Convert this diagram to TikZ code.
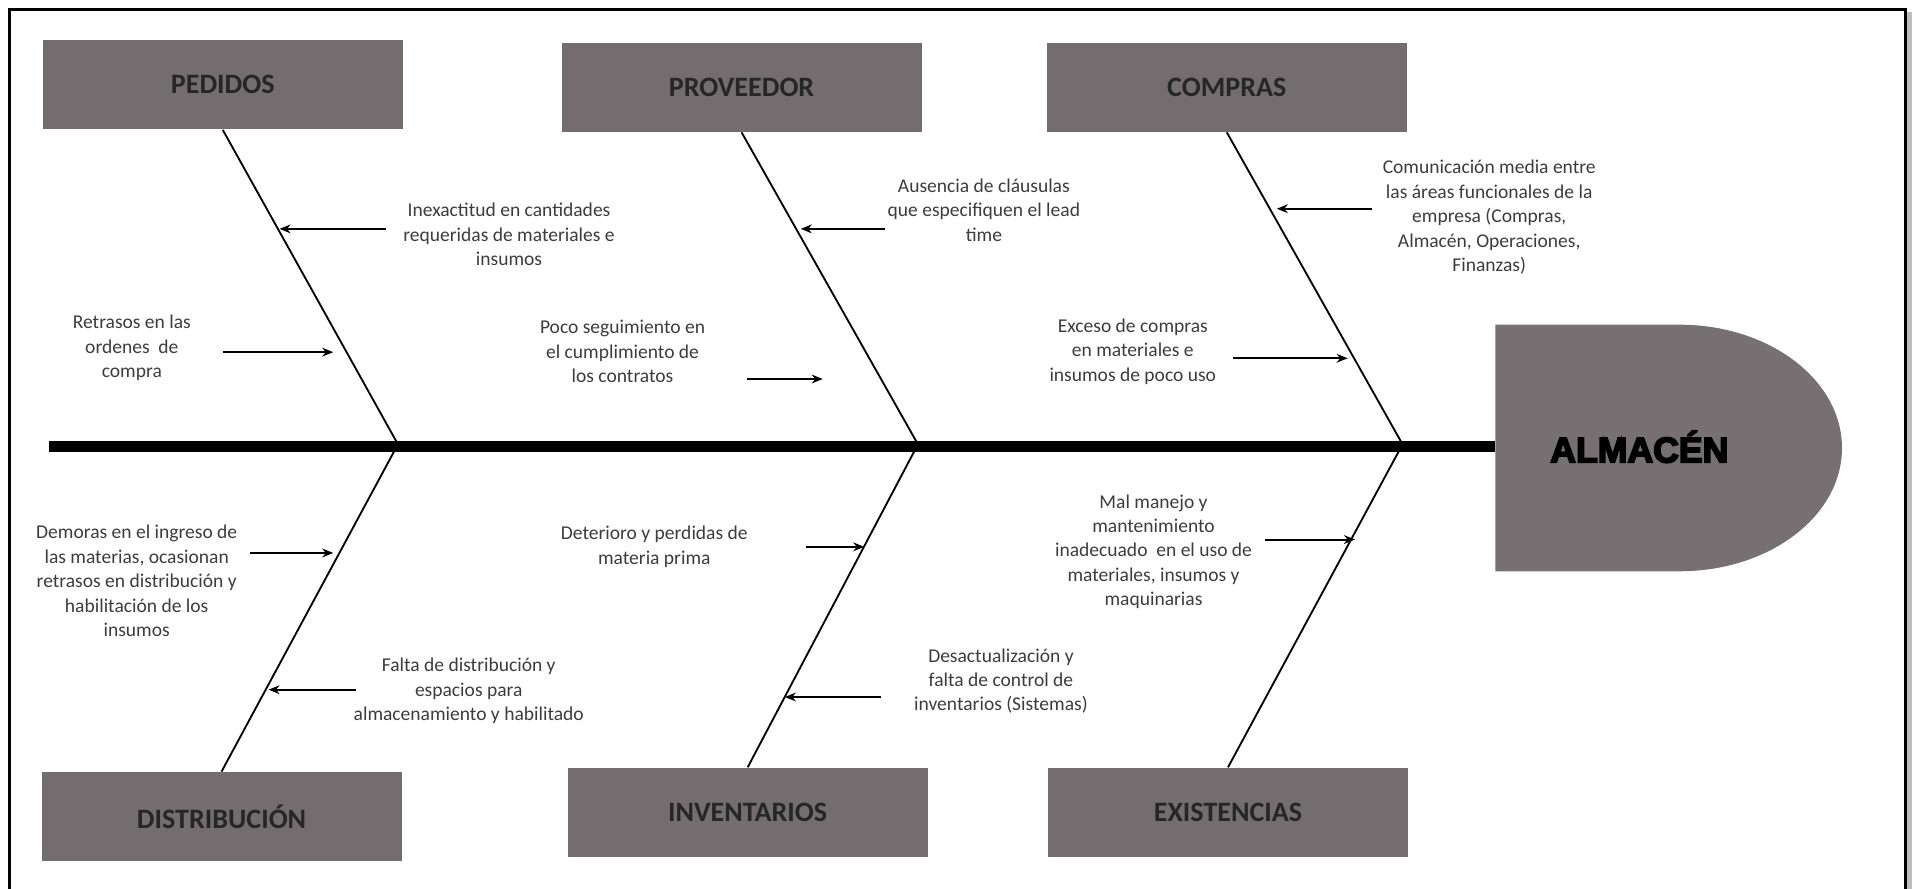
\documentclass[tikz,border=0pt]{standalone}
\usepackage{fontspec}
\setmainfont{Carlito}
\newfontfamily\headfont{Liberation Sans}
\usetikzlibrary{arrows.meta,calc}
\definecolor{boxgray}{RGB}{115,109,111}
\definecolor{headgray}{RGB}{118,112,114}
\definecolor{txtgray}{RGB}{60,60,60}
\newcommand{\heavytext}[1]{\special{pdf:literal direct 2 Tr 0.7 w}#1\special{pdf:literal direct 0 Tr 0 w}}
\begin{document}
\begin{tikzpicture}[x=0.5pt,y=-0.5pt,
  catbox/.style={fill=boxgray,minimum width=147.5pt,minimum height=36.5pt,inner sep=0pt,
    font=\bfseries\fontsize{11.5}{14}\selectfont,text=black!85},
  cause/.style={align=center,font=\fontsize{8}{10}\selectfont,text=txtgray,inner sep=0pt},
  bone/.style={line width=0.75pt,black},
  carrow/.style={line width=0.8pt,black,-{Stealth[length=4.5pt,width=3.6pt]}}]
\useasboundingbox (0,0) rectangle (1568,728);
% frame
\draw[line width=3pt,black!25] (1563,10) -- (1563,740);
\draw[line width=1.2pt] (8,740) -- (8,8) -- (1561,8) -- (1561,740);
% category boxes
\node[catbox] (ped) at (182.5,69.5) {PEDIDOS};
\node[catbox] (prov) at (607.5,71.5) {PROVEEDOR};
\node[catbox] (comp) at (1005,71.5) {COMPRAS};
\node[catbox] (dist) at (181.5,669) {DISTRIBUCIÓN};
\node[catbox] (inv) at (612.5,665.5) {INVENTARIOS};
\node[catbox] (exis) at (1006,665.5) {EXISTENCIAS};
% head
\fill[headgray] (1225,266) -- (1376,266) arc[start angle=-90,end angle=90,x radius=133,y radius=101] -- (1225,468) -- cycle;
\node[font=\headfont\bfseries\fontsize{14.6}{18}\selectfont,text=black] (head) at (1343,366) {\heavytext{ALMACÉN}};
% spine
\coordinate (tail) at (40,366);
\coordinate (spineend) at (1225,366);
\draw[line width=4.6pt] (tail) -- (spineend);
% junctions
\coordinate (j1) at (326,364);
\coordinate (j2) at (752,364);
\coordinate (j3) at (1149,364);
% bones
\draw[bone] (ped.south) -- (j1);
\draw[bone] (prov.south) -- (j2);
\draw[bone] (comp.south) -- (j3);
\draw[bone] (dist.north) -- (j1);
\draw[bone] (inv.north) -- (j2);
\draw[bone] (exis.north) -- (j3);
% cause texts
\node[cause] (c1) at (417,192) {Inexactitud en cantidades\\requeridas de materiales e\\insumos};
\node[cause] (c2) at (108,285) {Retrasos en las\\ordenes \ de\\compra};
\node[cause] (c3) at (806,172) {Ausencia de cláusulas\\que especifiquen el lead\\time};
\node[cause] (c4) at (510,288) {Poco seguimiento en\\el cumplimiento de\\los contratos};
\node[cause] (c5) at (1220,178) {Comunicación media entre\\las áreas funcionales de la\\empresa (Compras,\\Almacén, Operaciones,\\Finanzas)};
\node[cause] (c6) at (928,288) {Exceso de compras\\en materiales e\\insumos de poco uso};
\node[cause] (c7) at (112,476) {Demoras en el ingreso de\\las materias, ocasionan\\retrasos en distribución y\\habilitación de los\\insumos};
\node[cause] (c8) at (384,566) {Falta de distribución y\\espacios para\\almacenamiento y habilitado};
\node[cause] (c9) at (536,448) {Deterioro y perdidas de\\materia prima};
\node[cause] (c10) at (820,558) {Desactualización y\\falta de control de\\inventarios (Sistemas)};
\node[cause] (c11) at (945,452) {Mal manejo y\\mantenimiento\\inadecuado \ en el uso de\\materiales, insumos y\\maquinarias};
% arrow end points
\coordinate (a1s) at (316,187.5);  \coordinate (a1e) at (229,187.5);
\coordinate (a2s) at (183,288.5);  \coordinate (a2e) at (273,288.5);
\coordinate (a3s) at (725,187.5);  \coordinate (a3e) at (656,187.5);
\coordinate (a4s) at (612,310.5);  \coordinate (a4e) at (674,310.5);
\coordinate (a5s) at (1124,171);   \coordinate (a5e) at (1046,171);
\coordinate (a6s) at (1010,293.5); \coordinate (a6e) at (1104,293.5);
\coordinate (a7s) at (205,453);    \coordinate (a7e) at (273,453);
\coordinate (a8s) at (292,565);    \coordinate (a8e) at (220,565);
\coordinate (a9s) at (660,448);    \coordinate (a9e) at (708,448);
\coordinate (a10s) at (722,571);   \coordinate (a10e) at (643,571);
\coordinate (a11s) at (1036,442);  \coordinate (a11e) at (1110,442);
\foreach \i in {1,...,11} {\draw[carrow] (a\i s) -- (a\i e);}
\end{tikzpicture}
\end{document}
